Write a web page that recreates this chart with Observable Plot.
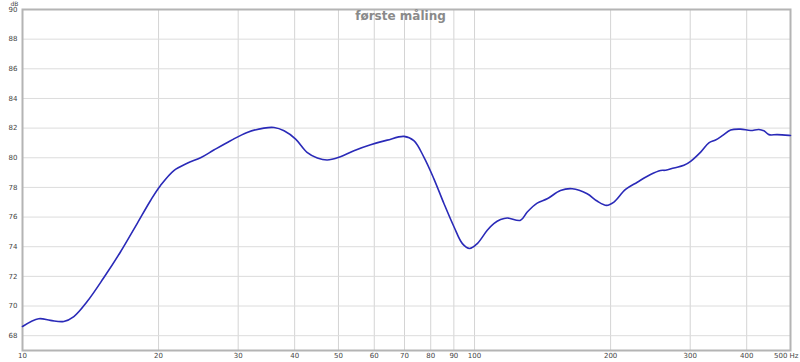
<!DOCTYPE html>
<html>
<head>
<meta charset="utf-8">
<script src="https://cdn.jsdelivr.net/npm/d3@7"></script>
<script src="https://cdn.jsdelivr.net/npm/@observablehq/plot@0.6"></script>
<style>
  html, body { margin: 0; padding: 0; background: #fff; }
  #chart svg { display: block; }
</style>
</head>
<body>
<div id="chart"></div>
<script>
const title = "første måling";
const freqs = [10, 10.86, 11.53, 12.34, 12.99, 13.9, 15.1, 16.48, 17.93, 19.2, 20.2, 21.62, 23.14, 24.77, 26.5, 28.85, 31.4, 34.2, 36.0, 37.9, 40.2, 42.6, 44.9, 47.2, 50.1, 54.1, 58.9, 64.1, 69.8, 73.4, 77.3, 81.3, 85.6, 90.1, 94.0, 97.5, 101.4, 106.7, 110.3, 114.2, 118.1, 126.4, 130.8, 137.6, 144.8, 154.9, 164.5, 177.5, 186.7, 195.9, 203.4, 215.8, 229.1, 245.1, 257.9, 264.6, 276.1, 290.5, 300.6, 316.4, 329.9, 341.3, 353.3, 368.6, 387.6, 408.0, 425.6, 436.6, 448.0, 467.3, 496.0, 500];
const levels = [68.62, 69.14, 69.03, 68.96, 69.29, 70.30, 71.87, 73.66, 75.56, 77.12, 78.13, 79.14, 79.63, 80.0, 80.52, 81.15, 81.71, 82.0, 82.04, 81.82, 81.26, 80.37, 79.99, 79.85, 80.03, 80.48, 80.88, 81.19, 81.44, 81.15, 80.03, 78.58, 76.90, 75.33, 74.21, 73.88, 74.21, 75.11, 75.56, 75.83, 75.94, 75.78, 76.34, 76.94, 77.23, 77.79, 77.91, 77.57, 77.08, 76.79, 77.01, 77.86, 78.35, 78.87, 79.14, 79.16, 79.31, 79.49, 79.76, 80.38, 81.0, 81.2, 81.49, 81.87, 81.93, 81.84, 81.91, 81.82, 81.56, 81.56, 81.51, 81.5];
const xTicks = [10, 20, 30, 40, 50, 60, 70, 80, 90, 100, 200, 300, 400];
const xTickLabels = ["10", "20", "30", "40", "50", "60", "70", "80", "90", "100", "200", "300", "400"];
const xLastTick = 500;
const xLastLabel = "500 Hz";
const yTicks = [68, 70, 72, 74, 76, 78, 80, 82, 84, 86, 88, 90];
const yUnit = "dB";

const data = freqs.map((f, i) => ({f, db: levels[i]}));
const xLabelRows = xTicks.map((t, i) => ({t, label: xTickLabels[i]}));

const chart = Plot.plot({
  width: 800,
  height: 362,
  marginLeft: 22,
  marginRight: 10,
  marginTop: 9,
  marginBottom: 12,
  style: {fontFamily: "DejaVu Sans, sans-serif", fontSize: "7px", color: "#444", background: "#fff"},
  x: {type: "log", domain: [10, 500], axis: null},
  y: {domain: [67, 90], axis: null},
  marks: [
    Plot.gridX(xTicks.slice(1), {stroke: "#d4d4d4", strokeOpacity: 1, strokeWidth: 1}),
    Plot.gridY(yTicks.slice(0, -1), {stroke: "#dcdcdc", strokeOpacity: 1, strokeWidth: 1}),
    Plot.frame({stroke: "#b4b4b4", strokeWidth: 2}),
    Plot.text(xLabelRows, {x: "t", text: "label", frameAnchor: "bottom", lineAnchor: "top", dy: 3, fill: "#444", fontSize: 7}),
    Plot.text([xLastTick], {x: d => d, text: () => xLastLabel, frameAnchor: "bottom", lineAnchor: "top", textAnchor: "end", dy: 3, dx: 8, fill: "#444", fontSize: 7}),
    Plot.text(yTicks, {y: d => d, text: d => String(d), frameAnchor: "left", textAnchor: "end", dx: -5, fill: "#444", fontSize: 7}),
    Plot.text([yUnit], {frameAnchor: "top-left", lineAnchor: "bottom", textAnchor: "start", dx: -12, dy: -4, fill: "#444", fontSize: 6}),
    Plot.text([title], {frameAnchor: "top", lineAnchor: "top", dx: -6, dy: 2, fill: "#8a8a8a", fontSize: 12, fontWeight: "bold"}),
    Plot.line(data, {x: "f", y: "db", stroke: "#2a2ab8", strokeWidth: 1.6, curve: "catmull-rom"})
  ]
});
document.getElementById("chart").appendChild(chart);
</script>
</body>
</html>
